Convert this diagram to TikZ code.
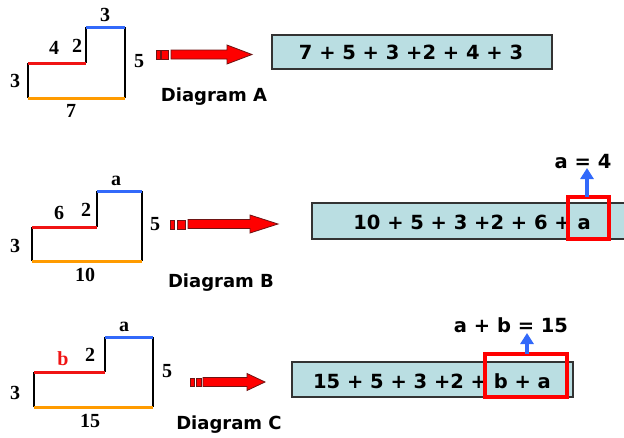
\documentclass[tikz,border=0pt]{standalone}
\usepackage{fontspec}
\setmainfont{Liberation Serif}
\newfontfamily\vf{DejaVu Sans}
\usetikzlibrary{arrows.meta}
\definecolor{lred}{RGB}{240,20,20}
\definecolor{lblue}{RGB}{50,105,250}
\definecolor{lorange}{RGB}{255,155,0}
\definecolor{boxfill}{RGB}{186,222,226}
\definecolor{darkred}{RGB}{110,20,20}
\tikzset{
  edge/.style={line width=2pt,black},
  redseg/.style={line width=3pt,lred},
  blueseg/.style={line width=3pt,lblue},
  orangeseg/.style={line width=3pt,lorange},
  num/.style={font=\fontsize{20}{20}\selectfont\bfseries,inner sep=0pt},
  lab/.style={font=\vf\fontsize{18}{18}\selectfont\bfseries,inner sep=0pt},
  sumtext/.style={font=\vf\fontsize{19.5}{19.5}\selectfont\bfseries,inner sep=0pt},
  sumbox/.style={fill=boxfill,draw=black!80,line width=1.3pt},
  redarrow/.style={fill=red,draw=darkred,line width=0.8pt},
  hilite/.style={draw=red,line width=3.5pt},
  uparrow/.style={lblue,line width=3.5pt,-{Triangle[width=13pt,length=11pt]}},
}
\begin{document}
\begin{tikzpicture}[x=1pt,y=-1pt]
\useasboundingbox (0,0) rectangle (624,437);
% ---------- Diagram A ----------
\draw[edge] (28,98) -- (28,63);
\draw[edge] (86,63) -- (86,27);
\draw[edge] (125,27) -- (125,98);
\draw[redseg] (28,63) -- (86,63);
\draw[blueseg] (86,27) -- (125,27);
\draw[orangeseg] (28,98) -- (125,98);
\node[num] (a3t) at (105,15) {3};
\node[num] (a4) at (54,48) {4};
\node[num] (a2) at (77,46) {2};
\node[num] (a5) at (139,61) {5};
\node[num] (a3l) at (15,81) {3};
\node[num] (a7) at (71,111) {7};
\draw[redarrow] (156,50) rectangle (160,59);
\draw[redarrow] (161,50) rectangle (168,59);
\draw[redarrow] (171,50) -- (227,50) -- (227,45) -- (252,54.5) -- (227,64) -- (227,59) -- (171,59) -- cycle;
\node[lab] (la) at (214,97) {Diagram A};
\draw[sumbox] (272,35) rectangle (552,69);
\node[sumtext] (sa) at (411,52) {7 + 5 + 3 +2 + 4 + 3};
% ---------- Diagram B ----------
\draw[edge] (32,261) -- (32,227);
\draw[edge] (97,227) -- (97,191);
\draw[edge] (142,191) -- (142,261);
\draw[redseg] (32,227) -- (97,227);
\draw[blueseg] (97,191) -- (142,191);
\draw[orangeseg] (32,261) -- (142,261);
\node[num] (ba) at (116,181) {a};
\node[num] (b6) at (59,213) {6};
\node[num] (b2) at (86,210) {2};
\node[num] (b5) at (155,224) {5};
\node[num] (b3) at (15,246) {3};
\node[num] (b10) at (85,275) {10};
\draw[redarrow] (170,220) rectangle (174,229);
\draw[redarrow] (177,220) rectangle (185,229);
\draw[redarrow] (188,219.5) -- (250,219.5) -- (250,215) -- (278,224) -- (250,233) -- (250,228.5) -- (188,228.5) -- cycle;
\node[lab] (lb) at (221,283) {Diagram B};
\fill[boxfill] (312,203) rectangle (624,239);
\draw[black!80,line width=1.3pt] (624,203) -- (312,203) -- (312,239) -- (624,239);
\node[sumtext] (sb) at (472,222) {10 + 5 + 3 +2 + 6 + a};
\draw[hilite] (568,197) rectangle (609,239);
\coordinate (hb) at (587,197);
\node[sumtext] (eb) at (583,162) {a = 4};
\draw[uparrow] (hb) -- (587,168);
% ---------- Diagram C ----------
\draw[edge] (34,407) -- (34,372);
\draw[edge] (105,372) -- (105,337);
\draw[edge] (153,337) -- (153,407);
\draw[redseg] (34,372) -- (105,372);
\draw[blueseg] (105,337) -- (153,337);
\draw[orangeseg] (34,407) -- (153,407);
\node[num] (ca) at (124,327) {a};
\node[num,text=lred] (cb) at (63,359) {b};
\node[num] (c2) at (90,355) {2};
\node[num] (c5) at (167,371) {5};
\node[num] (c3) at (15,393) {3};
\node[num] (c15) at (90,421) {15};
\draw[redarrow] (190,378) rectangle (194,386);
\draw[redarrow] (196,378) rectangle (201,386);
\draw[redarrow] (203,377.5) -- (247,377.5) -- (247,373.5) -- (265,382) -- (247,390.5) -- (247,386.5) -- (203,386.5) -- cycle;
\node[lab] (lc) at (229,425) {Diagram C};
\draw[sumbox] (292,362) rectangle (573,397);
\node[sumtext] (sc) at (432,381) {15 + 5 + 3 +2 + b + a};
\draw[hilite] (485,354) rectangle (567,397);
\coordinate (hc) at (527,354);
\node[sumtext] (ec) at (511,325) {a + b = 15};
\draw[uparrow] (hc) -- (527,333);
\end{tikzpicture}
\end{document}
